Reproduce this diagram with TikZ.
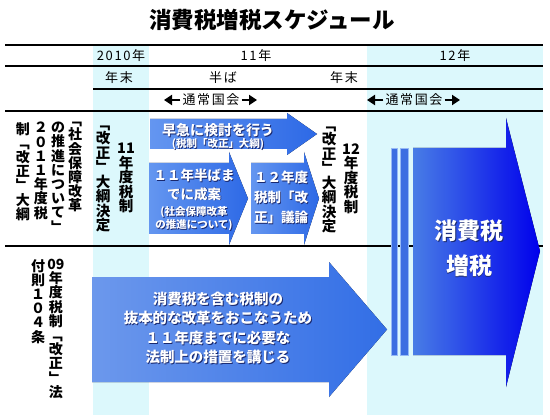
\documentclass[tikz,border=0pt]{standalone}
\usepackage{fontspec}
\setmainfont{Noto Sans CJK JP}
\newfontfamily\hdrfont[LetterSpace=12]{Noto Sans CJK JP}
\usetikzlibrary{arrows.meta,calc}
\definecolor{cyanbg}{RGB}{220,248,252}
\definecolor{shadowc}{RGB}{25,40,110}
\definecolor{barc}{RGB}{60,110,225}
\definecolor{baredge}{RGB}{150,185,245}
\definecolor{bigL}{RGB}{72,125,230}
\definecolor{bigR}{RGB}{0,0,236}
\definecolor{smL}{RGB}{100,150,240}
\definecolor{smR}{RGB}{45,105,230}
\definecolor{botL}{RGB}{108,152,236}
\definecolor{botR}{RGB}{50,110,230}
\newcommand\shtext[4]{%
  \node[#3, text=shadowc] (#1s) at ($(#2)+(0.9,0.9)$) {#4};
  \node[#3, text=white] (#1) at (#2) {#4};}
\begin{document}
\lineskiplimit=-20pt
\lineskip=0pt
\begin{tikzpicture}[x=1pt,y=-1pt,
  hline/.style={line width=1.2pt, black},
  colbg/.style={fill=cyanbg},
  titlef/.style={font=\bfseries\fontsize{22.5}{22.5}\selectfont, inner sep=0pt},
  hdr/.style={font=\hdrfont\fontsize{13}{13}\selectfont, inner sep=0pt},
  karrow/.style={line width=2.8pt, -{Triangle[width=10pt,length=8pt]}},
  vlab/.style={font=\bfseries\fontsize{14}{14.2}\selectfont, align=center, inner sep=0pt},
  vlabc/.style={font=\bfseries\fontsize{14.5}{14.5}\selectfont, align=center, inner sep=0pt},
  atxtT/.style={font=\bfseries\fontsize{14}{16}\selectfont, align=center, inner sep=0pt},
  atxtS/.style={font=\bfseries\fontsize{10.5}{13}\selectfont, align=center, inner sep=0pt},
  atxtA/.style={font=\bfseries\fontsize{13.5}{18.5}\selectfont, align=center, inner sep=0pt},
  atxtB/.style={font=\bfseries\fontsize{13.5}{20}\selectfont, align=center, inner sep=0pt},
  atxtC/.style={font=\bfseries\fontsize{14.5}{19.3}\selectfont, align=center, inner sep=0pt},
  atxtD/.style={font=\bfseries\fontsize{23}{35}\selectfont, align=center, inner sep=0pt},
  smarrow/.style={left color=smL, right color=smR},
  botarrow/.style={left color=botL, right color=botR},
  bigarrow/.style={left color=bigL, right color=bigR},
  bar/.style={fill=barc, draw=baredge, line width=0.6pt}
]
\useasboundingbox (0,0) rectangle (550,420);
\fill[white] (0,0) rectangle (550,420);

% title
\node[titlef] (title) at (272,20) {消費税増税スケジュール};

% light columns
\fill[colbg] (93,45) rectangle (149,415);
\fill[colbg] (367,45) rectangle (543,415);

% table rules
\draw[hline] (5,45) -- (543,45);
\draw[hline] (5,66) -- (543,66);
\draw[hline] (93,89) -- (543,89);
\draw[hline] (5,111) -- (543,111);
\draw[hline] (5,246) -- (543,246);

% header texts
\node[hdr] (y2010) at (121,56) {2010年};
\node[hdr] (y11) at (256,56) {11年};
\node[hdr] (y12) at (455,56) {12年};
\node[hdr] (nm1) at (119,77.5) {年末};
\node[hdr] (hb) at (223,77.5) {半ば};
\node[hdr] (nm2) at (344,77.5) {年末};
\node[hdr] (k1) at (211,100) {通常国会};
\node[hdr] (k2) at (414,100) {通常国会};
\coordinate (k1L) at (164,100);
\coordinate (k1R) at (257,100);
\coordinate (k2L) at (367,100);
\coordinate (k2R) at (460,100);
\draw[karrow, shorten <=2pt] (k1.west) -- (k1L);
\draw[karrow, shorten <=2pt] (k1.east) -- (k1R);
\draw[karrow, shorten <=2pt] (k2.west) -- (k2L);
\draw[karrow, shorten <=2pt] (k2.east) -- (k2R);

% upper-left label
\node[vlab, anchor=north] (sl1) at (75,122) {﹁\\社\\会\\保\\障\\改\\革};
\node[vlab, anchor=north] (sl2) at (58,122) {の\\推\\進\\に\\つ\\い\\て\\﹂};
\node[vlab, anchor=north] (sl3) at (41,122) {２\\０\\１\\１\\年\\度\\税};
\node[vlab, anchor=north] (sl4) at (23,122) {制\\﹁\\改\\正\\﹂\\大\\綱};

% column 1 labels
\node[vlabc] (c1a) at (126,178) {11\\年\\度\\税\\制};
\node[vlabc] (c1b) at (103,179) {﹁\\改\\正\\﹂\\大\\綱\\決\\定};
% column between arrows and big arrow
\node[vlabc] (c2a) at (351,178.5) {12\\年\\度\\税\\制};
\node[vlabc] (c2b) at (329,180) {﹁\\改\\正\\﹂\\大\\綱\\決\\定};

% bottom-left label
\node[vlab, anchor=north] (bl1) at (56,259) {09\\年\\度\\税\\制\\﹁\\改\\正\\﹂\\法};
\node[vlab, anchor=north] (bl2) at (38,259) {付\\則\\１\\０\\４\\条};

% small arrows
\fill[smarrow] (150,119) -- (287,119) -- (287,113) -- (317,134) -- (287,155) -- (287,149) -- (150,149) -- cycle;
\fill[smarrow] (149,163) -- (229,163) -- (229,152) -- (248,198.5) -- (229,245) -- (229,234) -- (149,234) -- cycle;
\fill[smarrow] (251,163) -- (304,163) -- (304,152) -- (319,198.5) -- (304,245) -- (304,234) -- (251,234) -- cycle;

% bottom arrow
\fill[botarrow] (92,277) -- (329,277) -- (329,262) -- (387,329.5) -- (329,397) -- (329,382) -- (92,382) -- cycle;

% big arrow
\filldraw[bar] (391,148) rectangle (397,355);
\filldraw[bar] (400,148) rectangle (408,355);
\fill[bigarrow] (413,148) -- (506,148) -- (506,118) -- (540,251) -- (506,387) -- (506,355) -- (413,355) -- cycle;

% arrow texts
\shtext{a1t}{218,130}{atxtT}{早急に検討を行う}
\shtext{a1s}{218,144.5}{atxtS}{(税制「改正」大綱)}
\shtext{a2t}{194,184.7}{atxtA}{１１年半ばま\\でに成案}
\shtext{a2s}{194,218.5}{atxtS}{(社会保障改革\\の推進について)}
\shtext{a3t}{281,197.5}{atxtB}{１２年度\\税制「改\\正」議論}
\shtext{a4t}{218,328}{atxtC}{消費税を含む税制の\\抜本的な改革をおこなうため\\１１年度までに必要な\\法制上の措置を講じる}
\shtext{big}{469,248}{atxtD}{消費税\\増税}
\end{tikzpicture}
\end{document}
